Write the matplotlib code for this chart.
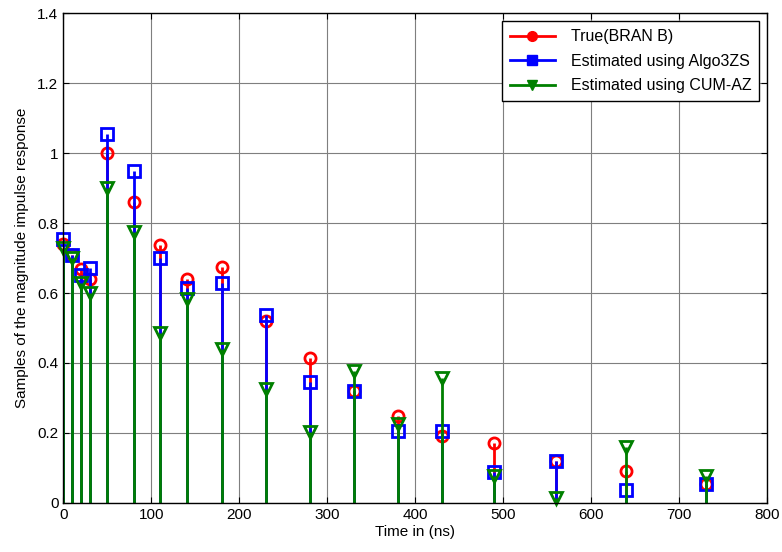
import numpy as np
import matplotlib
matplotlib.use('Agg')
import matplotlib.pyplot as plt
from matplotlib.lines import Line2D
from matplotlib.legend_handler import HandlerLine2D

# BRAN B tap delays (ns)
delays = [0, 10, 20, 30, 50, 80, 110, 140, 180, 230, 280, 330, 380, 430, 490, 560, 640, 730]

true_bran_b = [0.74, 0.71, 0.67, 0.64, 1.00, 0.86, 0.738, 0.64, 0.675, 0.52, 0.413, 0.32,
               0.248, 0.19, 0.17, 0.12, 0.091, 0.055]
algo3zs = [0.755, 0.71, 0.652, 0.672, 1.054, 0.949, 0.70, 0.615, 0.63, 0.536, 0.345, 0.32,
           0.205, 0.205, 0.088, 0.12, 0.037, 0.054]
cum_az = [0.73, 0.70, 0.63, 0.60, 0.90, 0.775, 0.487, 0.584, 0.44, 0.325, 0.202, 0.376,
          0.225, 0.356, 0.077, 0.014, 0.16, 0.077]

series = [
    (true_bran_b, 'red', 'o', 'True(BRAN B)'),
    (algo3zs, 'blue', 's', 'Estimated using Algo3ZS'),
    (cum_az, 'green', 'v', 'Estimated using CUM-AZ'),
]


class StemHandler(HandlerLine2D):
    # matlab style: marker sits at the right end of the line
    def get_xdata(self, legend, xdescent, ydescent, width, height, fontsize):
        xdata = np.array([-xdescent, -xdescent + width])
        return xdata, np.array([-xdescent + width - 3])


plt.rcParams['font.family'] = ['Liberation Sans', 'DejaVu Sans']
plt.rcParams['font.size'] = 11

fig = plt.figure(figsize=(7.82, 5.52), dpi=100)
ax = fig.add_axes([0.081, 0.089, 0.9, 0.887])

handles = []
for vals, col, mk, lab in series:
    ml, sl, bl = ax.stem(delays, vals, basefmt=' ')
    plt.setp(sl, color=col, linewidth=2)
    plt.setp(ml, marker=mk, markersize=8, markerfacecolor='none',
             markeredgecolor=col, markeredgewidth=2, clip_on=False)
    handles.append(Line2D([0], [0], color=col, linewidth=2, marker=mk, markersize=7,
                          markerfacecolor=col, markeredgecolor=col))

ax.set_xlim(0, 800)
ax.set_ylim(0, 1.4)
ax.set_xticks(np.arange(0, 801, 100))
ax.set_yticks(np.arange(0, 1.41, 0.2))
ax.set_yticklabels(['0', '0.2', '0.4', '0.6', '0.8', '1', '1.2', '1.4'])
ax.grid(True, color='#7f7f7f', linewidth=0.8)
ax.set_axisbelow(True)
ax.tick_params(direction='in', top=True, right=True, length=4)
for s in ax.spines.values():
    s.set_linewidth(1)
ax.set_xlabel('Time in (ns)', labelpad=2)
ax.set_ylabel('Samples of the magnitude impulse response', labelpad=6)

ax.legend(handles, [h[3] for h in series], loc='upper right', fancybox=False,
          edgecolor='black', framealpha=1, borderaxespad=0.5, handlelength=2.8,
          labelspacing=0.6, borderpad=0.5, handletextpad=1.0, fontsize=11.5,
          handler_map={Line2D: StemHandler()})

fig.savefig('out.png', dpi=100)
